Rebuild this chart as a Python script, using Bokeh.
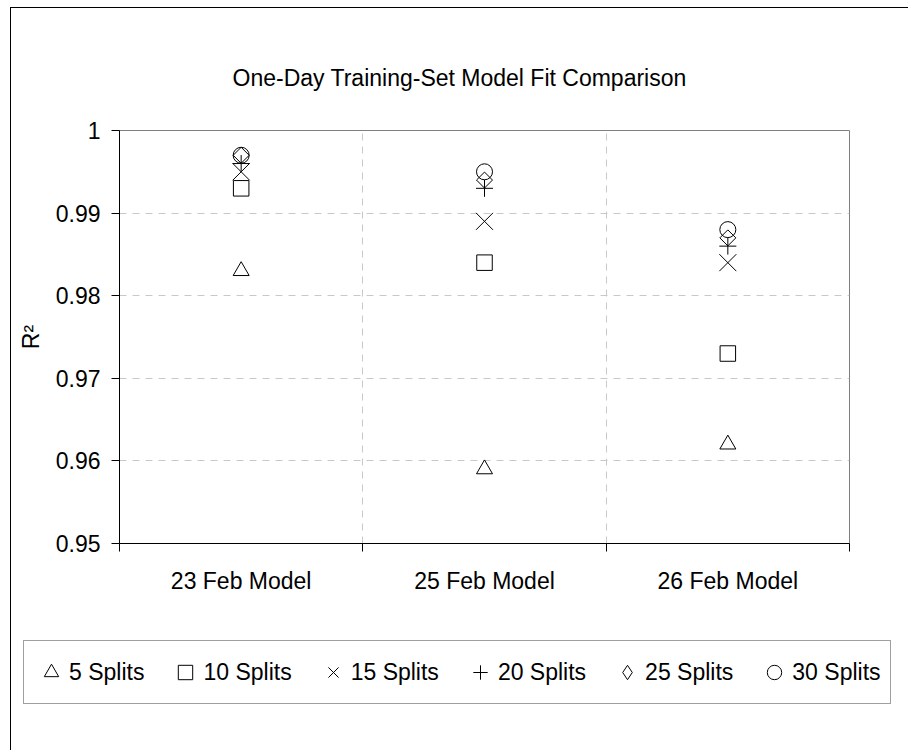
import numpy as np
from bokeh.plotting import figure
from bokeh.layouts import column
from bokeh.models import Range1d, FixedTicker, Legend, LegendItem, Title
from bokeh.embed import file_html
from bokeh.resources import INLINE

# ---- data ----
categories = ["23 Feb Model", "25 Feb Model", "26 Feb Model"]
series_labels = ["5 Splits", "10 Splits", "15 Splits", "20 Splits", "25 Splits", "30 Splits"]
splits5 = [0.983, 0.959, 0.962]
splits10 = [0.993, 0.984, 0.973]
splits15 = [0.995, 0.989, 0.984]
splits20 = [0.996, 0.993, 0.986]
splits25 = [0.997, 0.994, 0.987]
splits30 = [0.997, 0.995, 0.988]
y_ticks = [0.95, 0.96, 0.97, 0.98, 0.99, 1.0]
y_tick_labels = ["0.95", "0.96", "0.97", "0.98", "0.99", "1"]
title_text = "One-Day Training-Set Model Fit Comparison"
y_label = "R\u00b2"

FONT = "Liberation Sans"
FS = "23px"

x_pos = np.arange(len(categories)) + 0.5
bounds = list(np.arange(len(categories) + 1).astype(float))

p = figure(width=897, height=600, output_backend="svg", toolbar_location=None,
           x_range=Range1d(0, len(categories)), y_range=Range1d(y_ticks[0], y_ticks[-1]),
           min_border_left=108, min_border_right=59, min_border_top=122, min_border_bottom=65,
           background_fill_color="white", border_fill_color="white",
           outline_line_color="#808080", outline_line_width=1)

p.title = Title(text=title_text, align="left", offset=113, standoff=79,
                text_font=FONT, text_font_size=FS, text_font_style="normal", text_color="black")

# x axis
xa = p.xaxis[0]
xa.ticker = FixedTicker(ticks=list(x_pos), minor_ticks=bounds)
xa.major_label_overrides = {float(v): c for v, c in zip(x_pos, categories)}
xa.major_tick_out = 0
xa.major_tick_in = 0
xa.minor_tick_out = 8
xa.minor_tick_in = 0
xa.minor_tick_line_color = "black"
xa.axis_line_color = "black"
xa.major_label_standoff = 16
xa.major_label_text_font = FONT
xa.major_label_text_font_size = FS
xa.major_label_text_color = "black"

# y axis
ya = p.yaxis[0]
ya.ticker = FixedTicker(ticks=y_ticks, minor_ticks=[])
ya.major_label_overrides = {t: l for t, l in zip(y_ticks, y_tick_labels)}
ya.major_tick_out = 8
ya.major_tick_in = 0
ya.major_tick_line_color = "black"
ya.axis_line_color = "black"
ya.major_label_standoff = 11
ya.major_label_text_font = FONT
ya.major_label_text_font_size = FS
ya.major_label_text_color = "black"
ya.axis_label = y_label
ya.axis_label_text_font = FONT
ya.axis_label_text_font_size = FS
ya.axis_label_text_font_style = "normal"
ya.axis_label_text_color = "black"
ya.axis_label_standoff = 9

# grids
p.xgrid.ticker = FixedTicker(ticks=bounds[1:-1])
p.xgrid.grid_line_color = "#c8c8c8"
p.xgrid.grid_line_dash = "7 6"
p.ygrid.ticker = FixedTicker(ticks=y_ticks[1:-1])
p.ygrid.grid_line_color = "#c8c8c8"
p.ygrid.grid_line_dash = "7 6"

series = [splits5, splits10, splits15, splits20, splits25, splits30]
markers = ["triangle", "square", "x", "cross", "square", "circle"]
angles = [0, 0, 0, 0, np.pi / 4, 0]
sizes = [16, 15.5, 24, 17, 11.3, 16]
legend_markers = ["triangle", "square", "x", "cross", "diamond", "circle"]

for vals, mk, ang, sz in zip(series, markers, angles, sizes):
    p.scatter(x=x_pos, y=vals, marker=mk, size=sz, angle=ang,
              line_color="black", line_width=1, fill_color=None)

# ---- legend strip (own figure below the chart) ----
lf = figure(width=897, height=142, output_backend="svg", toolbar_location=None,
            x_range=Range1d(0, 1), y_range=Range1d(0, 1),
            x_axis_type=None, y_axis_type=None,
            min_border_left=0, min_border_right=0, min_border_top=0, min_border_bottom=0,
            background_fill_color="white", border_fill_color="white",
            outline_line_color=None, frame_align=False)
lf.title.visible = False

items = []
for lab, mk in zip(series_labels, legend_markers):
    # legend-only swatch renderers (no visible data)
    r = lf.scatter(x=[np.nan], y=[np.nan], marker=mk,
                   line_color="black", line_width=1, fill_color=None)
    items.append(LegendItem(label=lab, renderers=[r]))

legend = Legend(items=items, orientation="horizontal", location=(12, 46),
                margin=0, padding=9, spacing=23, glyph_width=36, glyph_height=44,
                label_standoff=0, label_text_font=FONT, label_text_font_size=FS,
                label_text_color="black", border_line_color="#404040", border_line_width=1,
                background_fill_color="white", background_fill_alpha=1.0)
lf.add_layout(legend, "center")

layout = column(p, lf, spacing=0, margin=(7, 0, 0, 10),
                styles={"border-left": "1px solid black", "border-top": "1px solid black"})

open("out.html", "w").write(file_html(layout, INLINE))
